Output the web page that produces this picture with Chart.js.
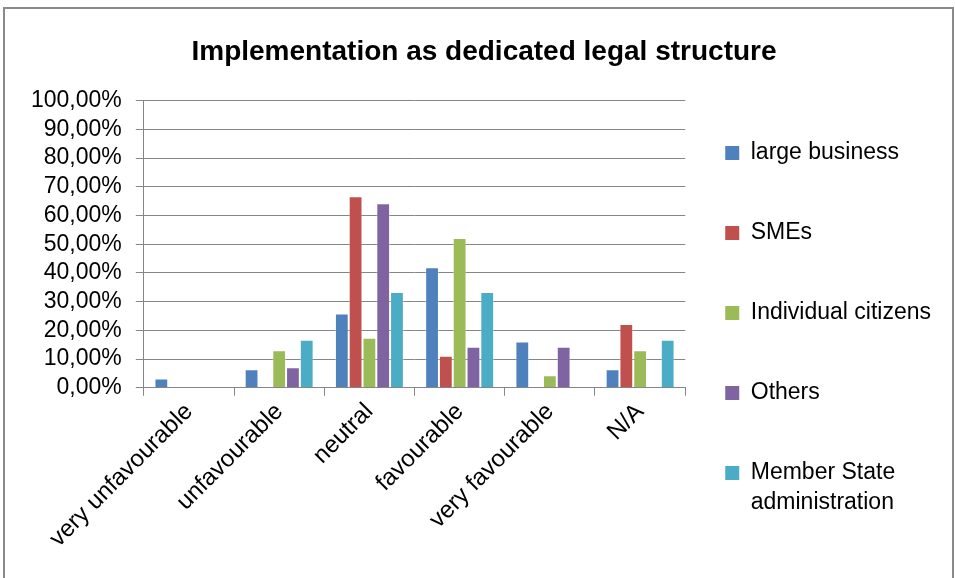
<!DOCTYPE html>
<html>
<head>
<meta charset="utf-8">
<script src="https://cdn.jsdelivr.net/npm/chart.js@4.4.1/dist/chart.umd.min.js"></script>
<style>
  html, body { margin: 0; padding: 0; background: #fff; }
  #wrap { position: relative; width: 955px; height: 578px; overflow: hidden; }
  #frame { position: absolute; left: 3px; top: 7px; width: 951px; height: 620px; border: 2px solid #8a8a8a; box-sizing: border-box; }
  canvas { position: absolute; left: 0; top: 0; }
</style>
</head>
<body>
<div id="wrap">
  <div id="frame"></div>
  <canvas id="chart" width="955" height="578"></canvas>
</div>
<script>
// survey answers, share of respondents per group (%)
const categories = ['very unfavourable', 'unfavourable', 'neutral', 'favourable', 'very favourable', 'N/A'];
const largeBusiness = [3.23, 6.45, 25.81, 41.94, 16.13, 6.45];
const smes = [0, 0, 66.67, 11.11, 0, 22.22];
const citizens = [0, 13.04, 17.39, 52.17, 4.35, 13.04];
const others = [0, 7.14, 64.29, 14.29, 14.29, 0];
const memberState = [0, 16.67, 33.33, 33.33, 0, 16.67];
const seriesNames = ['large business', 'SMEs', 'Individual citizens', 'Others', 'Member State\nadministration'];
const seriesColors = ['#4F81BD', '#C0504D', '#9BBB59', '#8064A2', '#4BACC6'];
const yTicks = [0, 10, 20, 30, 40, 50, 60, 70, 80, 90, 100];

const FONT = 'Liberation Sans, Arial, sans-serif';
const GRID = '#868686';

const seriesData = [largeBusiness, smes, citizens, others, memberState];
const datasets = seriesData.map((vals, i) => ({
  label: seriesNames[i],
  data: vals,
  backgroundColor: seriesColors[i],
  borderColor: 'rgba(255,255,255,0.35)',
  borderWidth: ctx => (ctx.raw ? 1 : 0),
  categoryPercentage: 0.764,
  barPercentage: 1
}));

// move the legend column closer to the plot and down beside it
const legendNudge = {
  id: 'legendNudge',
  afterLayout(chart) {
    const lg = chart.legend;
    lg.left -= 10;
    lg.right -= 10;
    lg.top += 54;
    lg.bottom += 54;
  }
};

new Chart(document.getElementById('chart'), {
  type: 'bar',
  data: { labels: categories, datasets },
  plugins: [legendNudge],
  options: {
    responsive: false,
    animation: false,
    layout: { padding: { left: 17, right: 4, top: 0, bottom: 23 } },
    plugins: {
      title: {
        display: true,
        text: 'Implementation as dedicated legal structure',
        color: '#000',
        font: { family: FONT, size: 28, weight: 'bold' },
        padding: { top: 35, bottom: 32 }
      },
      legend: {
        position: 'right',
        maxWidth: 266,
        labels: {
          boxWidth: 14,
          boxHeight: 14,
          padding: 50,
          color: '#000',
          font: { family: FONT, size: 23, lineHeight: 30 / 23 },
          generateLabels(chart) {
            const items = Chart.defaults.plugins.legend.labels.generateLabels(chart);
            items.forEach(it => {
              it.text = String(it.text).split('\n');
              it.strokeStyle = it.fillStyle;
              it.lineWidth = 0;
            });
            return items;
          }
        }
      },
      tooltip: { enabled: false }
    },
    scales: {
      x: {
        grid: { display: true, drawOnChartArea: false, drawTicks: true, tickLength: 8, color: GRID, offset: true },
        border: { color: GRID },
        ticks: {
          color: '#000',
          font: { family: FONT, size: 24 },
          minRotation: 45,
          maxRotation: 45,
          autoSkip: false,
          padding: 2
        }
      },
      y: {
        min: 0,
        max: 100,
        afterBuildTicks(axis) {
          axis.ticks = yTicks.map(v => ({ value: v }));
        },
        ticks: {
          color: '#000',
          font: { family: FONT, size: 23 },
          padding: 14,
          autoSkip: false,
          callback: v => v.toFixed(2).replace('.', ',') + '%'
        },
        grid: { color: GRID, tickLength: 8 },
        border: { color: GRID }
      }
    }
  }
});
</script>
</body>
</html>
